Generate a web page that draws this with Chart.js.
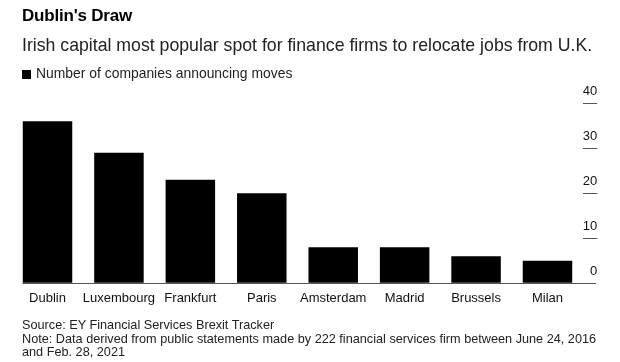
<!DOCTYPE html>
<html>
<head>
<meta charset="utf-8">
<script src="https://cdn.jsdelivr.net/npm/chart.js@4"></script>
<style>
  html, body { margin: 0; padding: 0; background: #fff; }
  #wrap { position: relative; width: 620px; height: 362px; overflow: hidden; font-family: "Liberation Sans", Arial, sans-serif; }
  #c { position: absolute; left: 0; top: 0; }
  .t { position: absolute; left: 22px; white-space: nowrap; color: #000; }
  #title { top: 6px; font-size: 17px; font-weight: bold; letter-spacing: -0.2px; }
  #sub { top: 35px; font-size: 17.7px; color: #222; }
  #leg { top: 65px; font-size: 13.9px; color: #222; }
  #leg span.sq { display: inline-block; width: 9px; height: 9px; background: #000; margin-right: 5px; vertical-align: -1px; }
  #foot { top: 319px; font-size: 12.7px; line-height: 13.5px; color: #222; }
</style>
</head>
<body>
<div id="wrap">
  <canvas id="c" width="620" height="362"></canvas>
  <div class="t" id="title">Dublin's Draw</div>
  <div class="t" id="sub">Irish capital most popular spot for finance firms to relocate jobs from U.K.</div>
  <div class="t" id="leg"><span class="sq"></span>Number of companies announcing moves</div>
  <div class="t" id="foot">Source: EY Financial Services Brexit Tracker<br>Note: Data derived from public statements made by 222 financial services firm between June 24, 2016<br>and Feb. 28, 2021</div>
</div>
<script>
const cities = ["Dublin", "Luxembourg", "Frankfurt", "Paris", "Amsterdam", "Madrid", "Brussels", "Milan"];
const companies = [36, 29, 23, 20, 8, 8, 6, 5];
const yTicks = [0, 10, 20, 30, 40];

const baseline = {
  id: 'baseline',
  afterDatasetsDraw(chart) {
    const ctx = chart.ctx;
    const y = chart.scales.y.getPixelForValue(0);
    ctx.save();
    ctx.strokeStyle = '#555';
    ctx.lineWidth = 1;
    ctx.beginPath();
    ctx.moveTo(22.5, Math.round(y) + 0.5);
    ctx.lineTo(596, Math.round(y) + 0.5);
    ctx.stroke();
    ctx.restore();
  }
};

new Chart(document.getElementById('c'), {
  type: 'bar',
  data: {
    labels: cities,
    datasets: [{
      label: 'Number of companies announcing moves',
      data: companies,
      backgroundColor: '#000',
      borderWidth: 0,
      categoryPercentage: 1,
      barPercentage: 0.693
    }]
  },
  options: {
    responsive: false,
    animation: false,
    devicePixelRatio: 1,
    layout: { padding: { left: 11.8, right: 22.8, top: 103.3, bottom: 54.7 } },
    plugins: { legend: { display: false }, tooltip: { enabled: false } },
    scales: {
      x: {
        grid: { display: false, drawTicks: false },
        border: { display: false },
        ticks: { color: '#111', font: { family: '"Liberation Sans", Arial, sans-serif', size: 13 }, padding: 7, maxRotation: 0, autoSkip: false },
        afterFit(s) { s.height = 24; }
      },
      y: {
        position: 'right',
        min: 0, max: 40,
        afterBuildTicks(s) { s.ticks = yTicks.map(v => ({ value: v })); },
        grid: {
          drawOnChartArea: false,
          tickLength: 14,
          color: ctx => (ctx.tick && ctx.tick.value === 0) ? 'rgba(0,0,0,0)' : '#555'
        },
        border: { display: false },
        ticks: {
          color: '#111',
          font: { family: '"Liberation Sans", Arial, sans-serif', size: 13 },
          padding: -14,
          crossAlign: 'far',
          labelOffset: -12
        },
        afterFit(s) { s.width = 14; }
      }
    }
  },
  plugins: [baseline]
});
</script>
</body>
</html>
